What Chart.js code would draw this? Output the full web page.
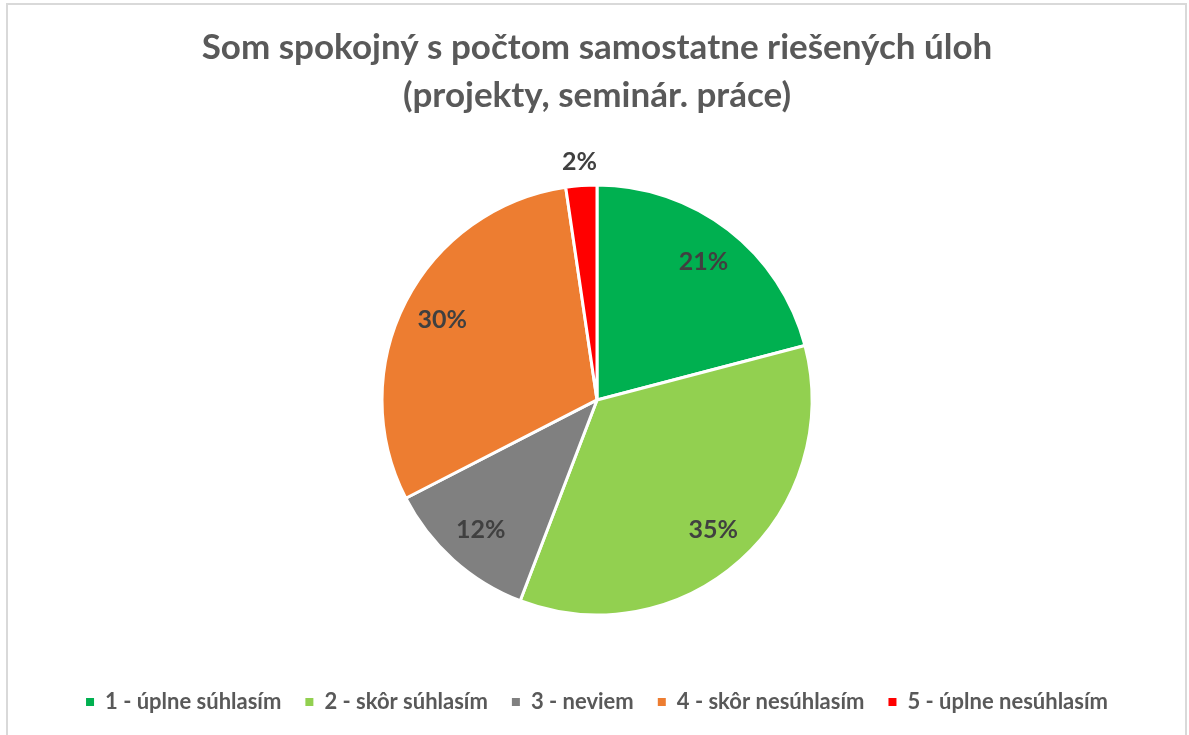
<!DOCTYPE html>
<html>
<head>
<meta charset="utf-8">
<script src="https://cdn.jsdelivr.net/npm/chart.js@4.4.0/dist/chart.umd.min.js"></script>
<style>
  html, body { margin: 0; padding: 0; background: #fff; }
  #wrap { width: 1189px; height: 735px; position: relative; }
</style>
</head>
<body>
<div id="wrap"><canvas id="pieChart" width="1189" height="735"></canvas></div>
<script>
const categories = ['1 - úplne súhlasím', '2 - skôr súhlasím', '3 - neviem', '4 - skôr nesúhlasím', '5 - úplne nesúhlasím'];
const answers = [9, 15, 5, 13, 1];
const sliceColors = ['#00B050', '#92D050', '#808080', '#ED7D31', '#FF0000'];
const titleLines = ['Som spokojný s počtom samostatne riešených úloh', '(projekty, seminár. práce)'];

const FONT = 'Lato, "Open Sans", sans-serif';

// white background + thin grey frame like the Excel chart area
const frame = {
  id: 'frame',
  beforeDraw(chart) {
    const c = chart.ctx;
    c.save();
    c.fillStyle = '#fff';
    c.fillRect(0, 0, chart.width, chart.height);
    c.strokeStyle = '#d9d9d9';
    c.lineWidth = 2;
    c.strokeRect(7, 4, 1179, 740);
    c.restore();
  }
};

// percent labels (no datalabels plugin available)
const pctLabels = {
  id: 'pctLabels',
  afterDatasetsDraw(chart) {
    const c = chart.ctx;
    const meta = chart.getDatasetMeta(0);
    const data = chart.data.datasets[0].data;
    const total = data.reduce((a, b) => a + b, 0);
    c.save();
    c.font = 'bold 25px ' + FONT;
    c.fillStyle = '#404040';
    c.textAlign = 'center';
    c.textBaseline = 'middle';
    meta.data.forEach((arc, i) => {
      const p = arc.getProps(['x', 'y', 'startAngle', 'endAngle', 'outerRadius'], true);
      const mid = (p.startAngle + p.endAngle) / 2;
      const share = data[i] / total;
      const r = share < 0.05 ? p.outerRadius + 24 : p.outerRadius * 0.81;
      c.fillText(Math.round(share * 100) + '%', p.x + Math.cos(mid) * r, p.y + Math.sin(mid) * r);
    });
    c.restore();
  }
};

const defaultLegendLabels = Chart.controllers.pie.overrides.plugins.legend.labels.generateLabels;

new Chart(document.getElementById('pieChart').getContext('2d'), {
  type: 'pie',
  data: {
    labels: categories,
    datasets: [{
      data: answers,
      backgroundColor: sliceColors,
      borderColor: '#ffffff',
      borderWidth: 3,
      radius: 215
    }]
  },
  options: {
    responsive: false,
    animation: false,
    layout: { padding: { top: 0, bottom: 12, left: 5, right: 0 } },
    plugins: {
      title: {
        display: true,
        text: titleLines,
        color: '#595959',
        font: { family: FONT, size: 35, weight: 'bold', lineHeight: 1.37 },
        padding: { top: 24, bottom: 13 }
      },
      legend: {
        position: 'bottom',
        labels: {
          color: '#595959',
          font: { family: FONT, size: 22, weight: 'bold' },
          boxWidth: 8,
          boxHeight: 8,
          padding: 24,
          generateLabels(chart) {
            // square swatches without the white slice border
            return defaultLegendLabels(chart).map(l => ({ ...l, lineWidth: 0, strokeStyle: l.fillStyle }));
          }
        }
      },
      tooltip: { enabled: false }
    }
  },
  plugins: [frame, pctLabels]
});
</script>
</body>
</html>
